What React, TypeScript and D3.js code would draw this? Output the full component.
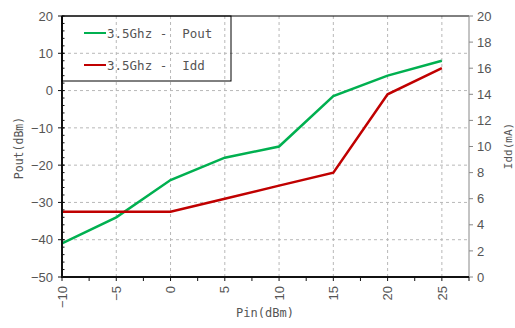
import React from 'react';
import * as d3 from 'd3';

// chart data
const pin = [-10, -5, 0, 5, 10, 15, 20, 25];
const pout = [-41, -34, -24, -18, -15, -1.5, 4, 8];
const idd = [5, 5, 5, 6, 7, 8, 14, 16];

const xTicks = [-10, -5, 0, 5, 10, 15, 20, 25];
const xMinorTicks = [-7.5, -2.5, 2.5, 7.5, 12.5, 17.5, 22.5, 27.5];
const leftTicks = [20, 10, 0, -10, -20, -30, -40, -50];
const leftMinorTicks = d3.range(-50, 20, 2);
const rightTicks = [0, 2, 4, 6, 8, 10, 12, 14, 16, 18, 20];
const legendItems = [
    { label: '3.5Ghz -  Pout', color: '#00b050' },
    { label: '3.5Ghz -  Idd', color: '#c00000' }
];

const config = {
    width: 515,
    height: 328,
    left: 62,
    right: 469,
    top: 16,
    bottom: 277,
    labelFont: '"Liberation Sans", Arial, sans-serif',
    monoFont: '"DejaVu Sans Mono", monospace'
};

export default function App() {
    const { width, height, left, right, top, bottom, labelFont, monoFont } = config;

    const x = d3.scaleLinear().domain([-10, 27.5]).range([left, right]);
    const yLeft = d3.scaleLinear().domain([-50, 20]).range([bottom, top]);
    const yRight = d3.scaleLinear().domain([0, 20]).range([bottom, top]);

    const poutLine = d3.line<number>().x((d, i) => x(pin[i])).y(d => yLeft(d));
    const iddLine = d3.line<number>().x((d, i) => x(pin[i])).y(d => yRight(d));

    return (
        <svg width={width} height={height} style={{ position: 'absolute', left: 0, top: 0, background: '#fff' }}>
            {/* grid */}
            <g stroke="#b8b8b8" strokeDasharray="3,3" strokeWidth={1}>
                {xTicks.filter(t => t > -10).map(t => (
                    <line key={'gx' + t} x1={x(t)} x2={x(t)} y1={top} y2={bottom} />
                ))}
                {leftTicks.filter(t => t > -50 && t < 20).map(t => (
                    <line key={'gy' + t} x1={left} x2={right} y1={yLeft(t)} y2={yLeft(t)} />
                ))}
            </g>

            {/* series */}
            <path d={poutLine(pout) || ''} fill="none" stroke="#00b050" strokeWidth={2.5} />
            <path d={iddLine(idd) || ''} fill="none" stroke="#c00000" strokeWidth={2.5} />

            {/* frame */}
            <line x1={left} x2={right} y1={top} y2={top} stroke="#000" strokeWidth={1} />
            <line x1={right} x2={right} y1={top} y2={bottom} stroke="#888" strokeWidth={1} />
            <line x1={left} x2={left} y1={top} y2={bottom + 1} stroke="#111" strokeWidth={2} />
            <line x1={left - 1} x2={right} y1={bottom} y2={bottom} stroke="#111" strokeWidth={2} />

            {/* left axis */}
            <g stroke="#111" strokeWidth={1}>
                {leftMinorTicks.map(t => (
                    <line key={'lm' + t} x1={left} x2={left + 2.5} y1={yLeft(t)} y2={yLeft(t)} />
                ))}
                {leftTicks.map(t => (
                    <line key={'lt' + t} x1={left - 4} x2={left + 2.5} y1={yLeft(t)} y2={yLeft(t)} />
                ))}
            </g>
            {leftTicks.map(t => (
                <text key={'ll' + t} x={left - 9} y={yLeft(t)} dy="0.36em" textAnchor="end"
                      fontFamily={labelFont} fontSize={13} fill="#555">
                    {t < 0 ? '\u2212' + Math.abs(t) : t}
                </text>
            ))}

            {/* right axis */}
            <g stroke="#888" strokeWidth={1}>
                {rightTicks.map(t => (
                    <line key={'rt' + t} x1={right} x2={right + 4} y1={yRight(t)} y2={yRight(t)} />
                ))}
            </g>
            {rightTicks.map(t => (
                <text key={'rl' + t} x={right + 8} y={yRight(t)} dy="0.36em" textAnchor="start"
                      fontFamily={labelFont} fontSize={13} fill="#555">
                    {t}
                </text>
            ))}

            {/* bottom axis */}
            <g stroke="#111" strokeWidth={1}>
                {xTicks.concat(xMinorTicks).map(t => (
                    <line key={'xt' + t} x1={x(t)} x2={x(t)} y1={bottom} y2={bottom + 4} />
                ))}
            </g>
            {xTicks.map(t => (
                <text key={'xl' + t} transform={`translate(${x(t)},${bottom + 9}) rotate(-90)`}
                      dy="0.36em" textAnchor="end" fontFamily={labelFont} fontSize={13} fill="#555">
                    {t < 0 ? '\u2212' + Math.abs(t) : t}
                </text>
            ))}

            {/* axis titles */}
            <text transform="translate(19,148) rotate(-90)" dy="0.36em" textAnchor="middle"
                  fontFamily={monoFont} fontSize={11.5} fill="#555">Pout(dBm)</text>
            <text transform="translate(508,146) rotate(-90)" dy="0.36em" textAnchor="middle"
                  fontFamily={monoFont} fontSize={11} fill="#555">Idd(mA)</text>
            <text x={265} y={317} textAnchor="middle" fontFamily={monoFont} fontSize={12} fill="#555">Pin(dBm)</text>

            {/* legend */}
            <rect x={left} y={top} width={169} height={65} fill="none" stroke="#000" strokeWidth={1} />
            {legendItems.map((item, i) => (
                <g key={item.label} transform={`translate(0,${33 + i * 32})`}>
                    <line x1={84} x2={106} y1={0} y2={0} stroke={item.color} strokeWidth={2} />
                    <text x={107} y={0} dy="0.36em" fontFamily={monoFont} fontSize={12.5} fill="#555"
                          style={{ whiteSpace: 'pre' }}>
                        {item.label}
                    </text>
                </g>
            ))}
        </svg>
    );
}
